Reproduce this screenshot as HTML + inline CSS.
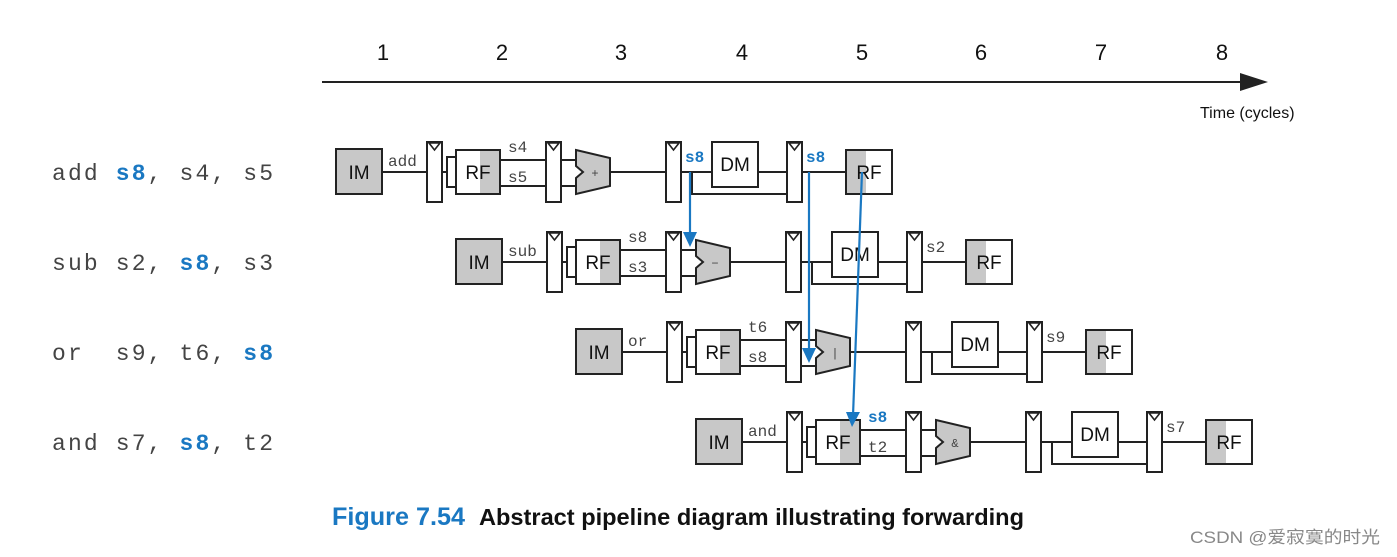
<!DOCTYPE html>
<html><head><meta charset="utf-8"><style>
html,body{margin:0;padding:0;background:#fff;}
svg{display:block;}
.m{font-family:"Liberation Mono",monospace;fill:#444;}
.b{font-family:"Liberation Mono",monospace;fill:#1a78c2;font-weight:bold;}
.s{font-family:"Liberation Sans",sans-serif;fill:#111;}
</style></head><body>
<svg width="1397" height="557" viewBox="0 0 1397 557" xmlns="http://www.w3.org/2000/svg">
<defs>
<g id="reg">
  <rect x="0" y="-7" width="15" height="60" fill="#fff" stroke="#222" stroke-width="2"/>
  <path d="M2,-6 L13,-6 L7.5,1 Z" fill="#fff" stroke="#222" stroke-width="1.6"/>
</g>
<g id="stage" stroke="#222" stroke-width="2" fill="none">
  <rect x="0" y="0" width="46" height="45" fill="#c8c8c8"/>
  <line x1="46" y1="23" x2="91" y2="23"/>
  <line x1="106" y1="23" x2="111" y2="23"/>
  <rect x="111" y="8" width="9" height="30" fill="#fff"/>
  <rect x="144" y="1" width="20" height="44" fill="#c8c8c8" stroke="none"/>
  <rect x="120" y="1" width="44" height="44"/>
  <line x1="164" y1="11" x2="210" y2="11"/>
  <line x1="164" y1="37" x2="210" y2="37"/>
  <line x1="225" y1="11" x2="240" y2="11"/>
  <line x1="225" y1="37" x2="240" y2="37"/>
  <polygon points="240,1 274,9 274,37 240,45 240,29 247,23 240,17" fill="#c8c8c8"/>
  <line x1="274" y1="23" x2="330" y2="23"/>
  <line x1="345" y1="23" x2="376" y2="23"/>
  <rect x="376" y="-7" width="46" height="45" fill="#fff"/>
  <polyline points="356,23 356,45 451,45"/>
  <line x1="422" y1="23" x2="451" y2="23"/>
  <line x1="466" y1="23" x2="510" y2="23"/>
  <rect x="510" y="1" width="20" height="44" fill="#c8c8c8" stroke="none"/>
  <rect x="510" y="1" width="46" height="44"/>
</g>
<g id="full">
  <use href="#stage"/>
  <use href="#reg" x="91"/>
  <use href="#reg" x="210"/>
  <use href="#reg" x="330"/>
  <use href="#reg" x="451"/>
  <text x="23" y="30" class="s" font-size="19" text-anchor="middle">IM</text>
  <text x="142" y="30" class="s" font-size="19" text-anchor="middle">RF</text>
  <text x="399" y="22" class="s" font-size="19" text-anchor="middle">DM</text>
  <text x="533" y="30" class="s" font-size="19" text-anchor="middle">RF</text>
</g>
</defs>

<!-- timeline -->
<g class="s" font-size="22" text-anchor="middle">
<text x="383" y="60">1</text><text x="502" y="60">2</text><text x="621" y="60">3</text><text x="742" y="60">4</text>
<text x="862" y="60">5</text><text x="981" y="60">6</text><text x="1101" y="60">7</text><text x="1222" y="60">8</text>
</g>
<line x1="322" y1="82" x2="1245" y2="82" stroke="#222" stroke-width="2"/>
<polygon points="1240,73 1268,82 1240,91" fill="#222"/>
<text x="1200" y="118" class="s" font-size="16">Time (cycles)</text>

<!-- instruction labels -->
<g font-size="23" xml:space="preserve">
<text x="52" y="180" class="m" textLength="221" lengthAdjust="spacing">add <tspan class="b">s8</tspan>, s4, s5</text>
<text x="52" y="270" class="m" textLength="221" lengthAdjust="spacing">sub s2, <tspan class="b">s8</tspan>, s3</text>
<text x="52" y="360" class="m" textLength="221" lengthAdjust="spacing">or&#160;&#160;s9, t6, <tspan class="b">s8</tspan></text>
<text x="52" y="450" class="m" textLength="221" lengthAdjust="spacing">and s7, <tspan class="b">s8</tspan>, t2</text>
</g>

<!-- rows -->
<g transform="translate(336,149)">
  <use href="#full"/>
  <text x="52" y="17" class="m" font-size="16">add</text>
  <text x="172" y="3" class="m" font-size="16">s4</text>
  <text x="172" y="33" class="m" font-size="16">s5</text>
  <text x="259" y="28" class="m" font-size="12" text-anchor="middle">+</text>
  <text x="349" y="13" class="b" font-size="16">s8</text>
  <text x="470" y="13" class="b" font-size="16">s8</text>
</g>
<g transform="translate(456,239)">
  <use href="#full"/>
  <text x="52" y="17" class="m" font-size="16">sub</text>
  <text x="172" y="3" class="m" font-size="16">s8</text>
  <text x="172" y="33" class="m" font-size="16">s3</text>
  <text x="259" y="28" class="m" font-size="12" text-anchor="middle">−</text>
  <text x="470" y="13" class="m" font-size="16">s2</text>
</g>
<g transform="translate(576,329)">
  <use href="#full"/>
  <text x="52" y="17" class="m" font-size="16">or</text>
  <text x="172" y="3" class="m" font-size="16">t6</text>
  <text x="172" y="33" class="m" font-size="16">s8</text>
  <text x="259" y="28" class="m" font-size="12" text-anchor="middle">|</text>
  <text x="470" y="13" class="m" font-size="16">s9</text>
</g>
<g transform="translate(696,419)">
  <use href="#full"/>
  <text x="52" y="17" class="m" font-size="16">and</text>
  <text x="172" y="3" class="b" font-size="16">s8</text>
  <text x="172" y="33" class="m" font-size="16">t2</text>
  <text x="259" y="28" class="m" font-size="12" text-anchor="middle">&amp;</text>
  <text x="470" y="13" class="m" font-size="16">s7</text>
</g>

<!-- forwarding arrows -->
<g stroke="#1a78c2" stroke-width="2.2" fill="#1a78c2">
  <line x1="690" y1="172" x2="690" y2="236"/>
  <polygon points="683,232 697,232 690,247" stroke="none"/>
  <line x1="809" y1="172" x2="809" y2="352"/>
  <polygon points="802,348 816,348 809,363" stroke="none"/>
  <line x1="862" y1="172" x2="853" y2="416"/>
  <polygon points="846,412 860,412 852,427" stroke="none"/>
</g>

<!-- caption -->
<text x="332" y="525" font-family="'Liberation Sans Narrow','Liberation Sans',sans-serif" font-weight="bold" font-size="25" fill="#1a78c2" textLength="133" lengthAdjust="spacingAndGlyphs">Figure 7.54</text>
<text x="479" y="525" font-family="'Liberation Sans Narrow','Liberation Sans',sans-serif" font-weight="bold" font-size="23" fill="#111" textLength="545" lengthAdjust="spacingAndGlyphs">Abstract pipeline diagram illustrating forwarding</text>
<text x="1190" y="543" font-family="'Liberation Sans','Noto Sans CJK SC',sans-serif" font-size="17" fill="#888" textLength="190" lengthAdjust="spacingAndGlyphs">CSDN @爱寂寞的时光</text>
</svg>
</body></html>
